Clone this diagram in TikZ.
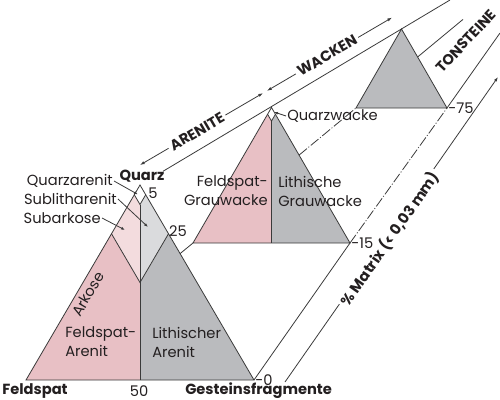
\documentclass[tikz,border=0pt]{standalone}
\usepackage{fontspec}
\setmainfont{Poppins}
\usetikzlibrary{arrows.meta}

\definecolor{inkline}{RGB}{58,58,58}
\definecolor{inktext}{RGB}{35,31,32}
\definecolor{feldpink}{RGB}{232,192,197}
\definecolor{feldpinklt}{RGB}{243,220,222}
\definecolor{lithgray}{RGB}{186,187,190}
\definecolor{lithgraylt}{RGB}{218,219,221}

\begin{document}
\begin{tikzpicture}[x=0.75pt,y=0.75pt,yscale=-1,xscale=1,
    edge/.style={draw=inkline, line width=0.6pt},
    hidden/.style={edge, dash pattern=on 7.5pt off 1.5pt on 0.75pt off 1.5pt},
    tip/.style={-{Latex[length=3pt,width=2.2pt]}},
    lbl/.style={inner sep=0.75pt, text=inktext, font=\fontsize{11}{14.25}\selectfont},
    lblbf/.style={lbl, font=\fontsize{11}{14.25}\selectfont\bfseries},
    gap/.style={lblbf, fill=white, inner sep=2pt}]
    \useasboundingbox (0,0) rectangle (500,400);

    %Corners [id:main triangle, 0 % matrix]
    \coordinate (fs) at (26,380); \coordinate (qz) at (140,185); \coordinate (gf) at (254,380);
    \coordinate (q5l) at (134.3,194.75); \coordinate (q5r) at (145.7,194.75); \coordinate (q5v) at (140,204.5);
    \coordinate (q25l) at (111.5,233.75); \coordinate (q25r) at (168.5,233.75); \coordinate (q25v) at (140,282.5);
    \coordinate (mid) at (140,380);
    %Corners [id:wacken triangle, 15 % matrix]
    \coordinate (fsw) at (193,243); \coordinate (qzw) at (271.5,107.5); \coordinate (gfw) at (350,243);
    \coordinate (w5l) at (267.6,114.3); \coordinate (w5r) at (275.4,114.3); \coordinate (w5v) at (271.5,121.1);
    \coordinate (midw) at (271.5,243);
    %Corners [id:tonstein triangle, 75 % matrix]
    \coordinate (fst) at (356,108); \coordinate (qzt) at (401.5,29); \coordinate (gft) at (447,108);

    %Shape: Fills main triangle
    \fill [feldpink] (q25l) -- (fs) -- (mid) -- (q25v) -- cycle;
    \fill [lithgray] (q25r) -- (gf) -- (mid) -- (q25v) -- cycle;
    \fill [feldpinklt] (q5l) -- (q25l) -- (q25v) -- (q5v) -- cycle;
    \fill [lithgraylt] (q5r) -- (q25r) -- (q25v) -- (q5v) -- cycle;
    %Shape: Outline main triangle
    \draw [edge] (fs) -- (qz) -- (gf) -- cycle;
    \draw [edge] (q5v) -- (mid);
    \draw [edge] (q5l) -- (q5v) -- (q5r);
    \draw [edge] (q25l) -- (q25v) -- (q25r);

    %Shape: Wacken triangle
    \fill [feldpink] (w5l) -- (fsw) -- (midw) -- (w5v) -- cycle;
    \fill [lithgray] (w5r) -- (gfw) -- (midw) -- (w5v) -- cycle;
    \draw [edge] (fsw) -- (qzw) -- (gfw) -- cycle;
    \draw [edge] (w5v) -- (midw);
    \draw [edge] (w5l) -- (w5v) -- (w5r);

    %Shape: Tonstein triangle
    \draw [edge, fill=lithgray] (fst) -- (qzt) -- (gft) -- cycle;

    %Straight Lines [id:prism edges]
    \draw [edge] (163,171.3) -- (450,0);
    \draw [edge] (180.1,253.6) -- (fsw);
    \draw [hidden] (299.2,155) -- (fst);
    \draw [edge] (417.6,57) -- (463,19.4);
    \draw [edge] (gf) -- (gfw);
    \draw [hidden] (gfw) -- (gft);
    \draw [edge] (gft) -- (500,33);

    %Straight Lines [id:dimension lines]
    \draw [edge, {Latex[length=3.5pt,width=2.4pt]}-{Latex[length=3.5pt,width=2.4pt]}] (140,165) -- (263,93.1);
    \draw [edge, {Latex[length=3.5pt,width=2.4pt]}-{Latex[length=3.5pt,width=2.4pt]}] (267,90.8) -- (392,17.6);
    \draw [edge, -{Latex[length=3.5pt,width=2.4pt]}] (285,382) -- (498,77);

    % Text Node
    \draw (197,131.7) node [gap, rotate=30.3] (arenite) {ARENITE};
    % Text Node
    \draw (327,55.6) node [gap, rotate=30.3] (wacken) {WACKEN};
    % Text Node
    \draw (390,239) node [gap, rotate=55] (matrix) {\% Matrix (< 0,03 mm)};
    % Text Node
    \draw (466,41) node [lblbf, rotate=47] (tonsteine) {TONSTEINE};

    % Text Node
    \draw (1,391) node [anchor=west][lblbf] (feldspat) {Feldspat};
    % Text Node
    \draw (139,391) node [lbl] (fifty) {50};
    % Text Node
    \draw (184,391) node [anchor=west][lblbf] (gesteinsfr) {Gesteinsfragmente};
    % Text Node
    \draw (142,176) node [lblbf] (quarz) {Quarz};
    % Text Node
    \draw (gf) node [anchor=west][lbl] (pzero) {-0};
    % Text Node
    \draw (gfw) node [anchor=west][lbl] (pfifteen) {-15};
    % Text Node
    \draw (gft) node [anchor=west][lbl] (pseventyfive) {-75};
    % Text Node
    \draw (153,193) node [lbl] (qfive) {5};
    % Text Node
    \draw (178,231) node [lbl] (qtwentyfive) {25};

    % Text Node
    \draw (114,181) node [anchor=east][lbl] (quarzarenit) {Quarzarenit};
    % Text Node
    \draw (118,199) node [anchor=east][lbl] (sublith) {Sublitharenit};
    % Text Node
    \draw (102,218) node [anchor=east][lbl] (subarkose) {Subarkose};
    % Text Node
    \draw (88,294) node [lbl, rotate=59.5] (arkose) {Arkose};
    % Text Node
    \draw (64,342) node [anchor=west][lbl, align=left] (feldarenit) {Feldspat-\\Arenit};
    % Text Node
    \draw (151,342) node [anchor=west][lbl, align=left] (litharenit) {Lithischer\\Arenit};
    % Text Node
    \draw (269,191) node [anchor=east][lbl, align=right] (feldwacke) {Feldspat-\\Grauwacke};
    % Text Node
    \draw (277,191) node [anchor=west][lbl, align=left] (lithwacke) {Lithische\\Grauwacke};
    % Text Node
    \draw (286,116) node [anchor=west][lbl] (quarzwacke) {Quarzwacke};

    %Straight Lines [id:label pointers]
    \draw [edge, tip] (quarzarenit.east) -- (138,194.5);
    \draw [edge, tip] (sublith.east) -- (148,227);
    \draw [edge, tip] (subarkose.east) -- (125,230);
    \draw [edge, tip] (quarzwacke.west) -- (274,112);

\end{tikzpicture}
\end{document}
